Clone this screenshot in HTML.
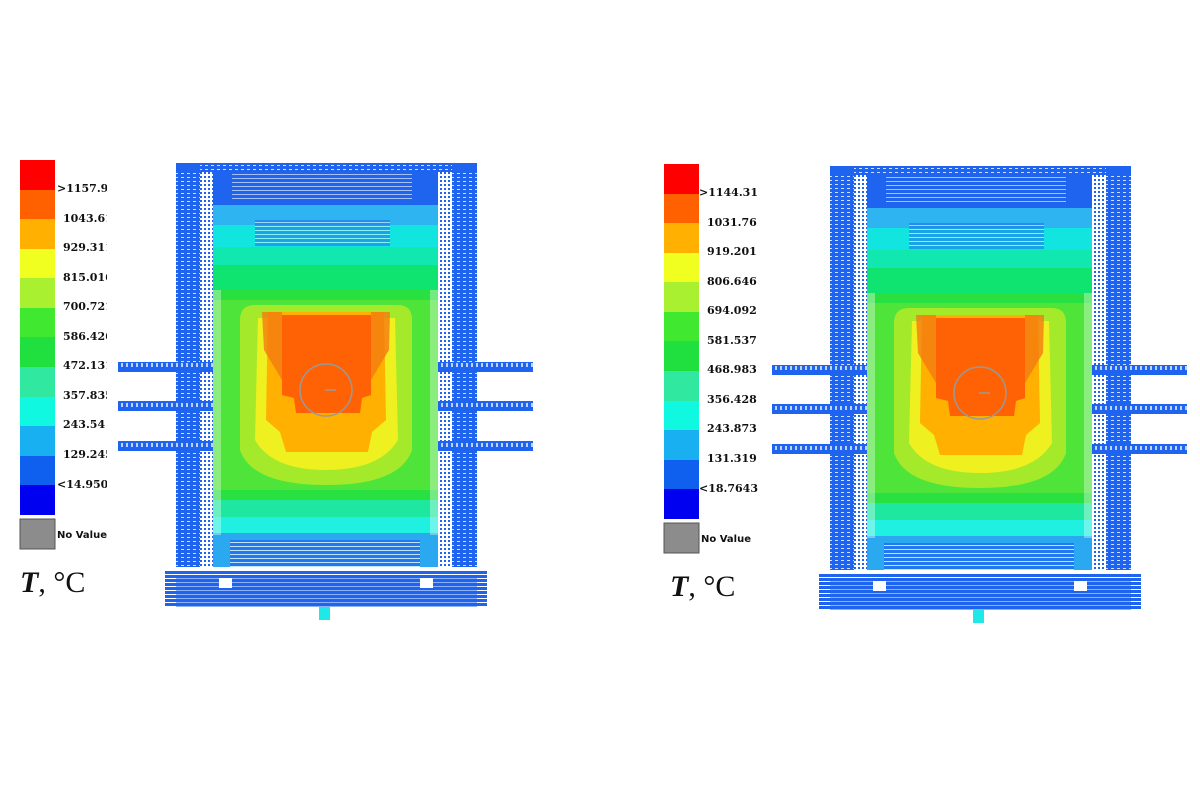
<!DOCTYPE html>
<html><head><meta charset="utf-8"><style>
html,body{margin:0;padding:0;background:#fff;}
svg{display:block;}
.lb{font-family:"DejaVu Serif","Liberation Serif",serif;font-weight:bold;font-size:11px;fill:#111;}
.nv{font-family:"DejaVu Sans","Liberation Sans",sans-serif;font-weight:bold;font-size:10px;fill:#111;}
.tt{font-family:"Liberation Serif",serif;font-size:30px;fill:#111;}
</style></head><body>
<svg width="1200" height="800" viewBox="0 0 1200 800" xmlns="http://www.w3.org/2000/svg">
<defs>
<pattern id="dots" width="4" height="4" patternUnits="userSpaceOnUse"><rect width="4" height="4" fill="#fff"/><rect width="2" height="2" fill="#1e64ee"/></pattern>
<pattern id="hatch" width="6" height="4" patternUnits="userSpaceOnUse"><rect width="6" height="4" fill="#1e64ee"/><rect x="1" y="1" width="3" height="1" fill="#cfe0ff"/></pattern>
<pattern id="bar" width="5" height="10" patternUnits="userSpaceOnUse"><rect width="5" height="10" fill="#1e64ee"/><rect x="1" y="3" width="2" height="4" fill="#bcd2ff"/></pattern>
<pattern id="lines" width="4" height="4" patternUnits="userSpaceOnUse"><rect width="4" height="4" fill="#1e64ee"/><rect y="2" width="4" height="1" fill="#fff"/></pattern>
<clipPath id="lclip"><rect x="0" y="0" width="107" height="800"/></clipPath>
<g id="plot">
  <rect x="176" y="163" width="301" height="404" fill="url(#hatch)"/>
  <rect x="200" y="172" width="13" height="395" fill="url(#dots)"/>
  <rect x="438" y="172" width="14" height="395" fill="url(#dots)"/>
  <rect x="213" y="172" width="225" height="33" fill="#1e64ee"/>
  <rect x="232" y="172" width="180" height="30" fill="url(#lines)" opacity="0.6"/>
  <rect x="213" y="205" width="225" height="20" fill="#2eb4f0"/>
  <rect x="213" y="225" width="225" height="22" fill="#12e4e0"/>
  <rect x="255" y="220" width="135" height="26" fill="url(#lines)" opacity="0.5"/>
  <rect x="213" y="247" width="225" height="18" fill="#10e8b0"/>
  <rect x="213" y="265" width="225" height="25" fill="#10e470"/>
  <rect x="213" y="290" width="225" height="210" fill="#28e040"/>
  <rect x="213" y="300" width="225" height="190" fill="#4ee43a"/>
  <path d="M240 320 Q240 305 255 305 L398 305 Q412 305 412 320 L412 450 Q400 485 326 485 Q252 485 240 450 Z" fill="#a4ea2a"/>
  <path d="M258 318 L395 318 L398 440 Q380 470 326 470 Q272 470 255 440 Z" fill="#eef020"/>
  <path d="M268 312 L384 312 L386 420 L372 432 L368 452 L286 452 L280 432 L266 420 Z" fill="#ffb000"/>
  <path d="M262 312 L282 312 L282 380 L264 350 Z" fill="#f47a10" opacity="0.8"/>
  <path d="M390 312 L371 312 L371 380 L389 350 Z" fill="#f47a10" opacity="0.8"/>
  <path d="M282 315 L371 315 L371 395 L362 398 L360 413 L296 413 L294 398 L282 395 Z" fill="#ff6204"/>
  <rect x="213" y="500" width="225" height="17" fill="#1ee8a0"/>
  <rect x="213" y="517" width="225" height="16" fill="#20f0e0"/>
  <rect x="213" y="533" width="225" height="34" fill="#2aa8f0"/>
  <rect x="230" y="540" width="190" height="27" fill="url(#lines)" opacity="0.7"/>
  <rect x="213" y="290" width="8" height="245" fill="#fff" opacity="0.35"/>
  <rect x="430" y="290" width="8" height="245" fill="#fff" opacity="0.35"/>
  <circle cx="326" cy="390" r="26" fill="none" stroke="#999" stroke-width="1.5"/>
  <line x1="325" y1="390" x2="336" y2="390" stroke="#999" stroke-width="1.5"/>
  <rect x="118" y="362" width="95" height="10" fill="url(#bar)"/>
  <rect x="118" y="401" width="95" height="10" fill="url(#bar)"/>
  <rect x="118" y="441" width="95" height="10" fill="url(#bar)"/>
  <rect x="438" y="362" width="95" height="10" fill="url(#bar)"/>
  <rect x="438" y="401" width="95" height="10" fill="url(#bar)"/>
  <rect x="438" y="441" width="95" height="10" fill="url(#bar)"/>
  <rect x="176" y="163" width="24" height="8" fill="#1e64ee"/>
  <rect x="452" y="163" width="25" height="8" fill="#1e64ee"/>
  <rect x="165" y="570" width="322" height="37" fill="url(#lines)"/>
  <rect x="176" y="576" width="301" height="31" fill="#1e64ee" opacity="0.5"/>
  <rect x="219" y="578" width="13" height="10" fill="#fff"/>
  <rect x="420" y="578" width="13" height="10" fill="#fff"/>
  <rect x="319" y="607" width="11" height="13" fill="#20e8e8"/>
</g>
</defs>

<!-- left legend -->
<g>
<rect x="20" y="160" width="35" height="30" fill="#ff0000"/>
<rect x="20" y="190" width="35" height="29" fill="#ff6000"/>
<rect x="20" y="219" width="35" height="30" fill="#ffb000"/>
<rect x="20" y="249" width="35" height="29" fill="#f0ff20"/>
<rect x="20" y="278" width="35" height="30" fill="#a8f030"/>
<rect x="20" y="308" width="35" height="29" fill="#40e830"/>
<rect x="20" y="337" width="35" height="30" fill="#20e040"/>
<rect x="20" y="367" width="35" height="30" fill="#30e8a0"/>
<rect x="20" y="397" width="35" height="29" fill="#10f8e0"/>
<rect x="20" y="426" width="35" height="30" fill="#18b0f0"/>
<rect x="20" y="456" width="35" height="29" fill="#1060f0"/>
<rect x="20" y="485" width="35" height="30" fill="#0000f0"/>
<rect x="20" y="519" width="35" height="30" fill="#8c8c8c" stroke="#555"/>
<g class="lb" clip-path="url(#lclip)">
<text x="57" y="192">&gt;1157.9</text>
<text x="63" y="222">1043.61</text>
<text x="63" y="251">929.311</text>
<text x="63" y="281">815.016</text>
<text x="63" y="310">700.721</text>
<text x="63" y="340">586.426</text>
<text x="63" y="369">472.131</text>
<text x="63" y="399">357.835</text>
<text x="63" y="428">243.54</text>
<text x="63" y="458">129.245</text>
<text x="57" y="488">&lt;14.9502</text>
</g>
<text class="nv" x="57" y="538">No Value</text>
<text class="tt" x="20" y="592"><tspan font-weight="bold" font-style="italic">T</tspan>, °C</text>
</g>

<!-- right legend -->
<g transform="translate(644,4)">
<rect x="20" y="160" width="35" height="30" fill="#ff0000"/>
<rect x="20" y="190" width="35" height="29" fill="#ff6000"/>
<rect x="20" y="219" width="35" height="30" fill="#ffb000"/>
<rect x="20" y="249" width="35" height="29" fill="#f0ff20"/>
<rect x="20" y="278" width="35" height="30" fill="#a8f030"/>
<rect x="20" y="308" width="35" height="29" fill="#40e830"/>
<rect x="20" y="337" width="35" height="30" fill="#20e040"/>
<rect x="20" y="367" width="35" height="30" fill="#30e8a0"/>
<rect x="20" y="397" width="35" height="29" fill="#10f8e0"/>
<rect x="20" y="426" width="35" height="30" fill="#18b0f0"/>
<rect x="20" y="456" width="35" height="29" fill="#1060f0"/>
<rect x="20" y="485" width="35" height="30" fill="#0000f0"/>
<rect x="20" y="519" width="35" height="30" fill="#8c8c8c" stroke="#555"/>
<g class="lb">
<text x="55" y="192">&gt;1144.31</text>
<text x="63" y="222">1031.76</text>
<text x="63" y="251">919.201</text>
<text x="63" y="281">806.646</text>
<text x="63" y="310">694.092</text>
<text x="63" y="340">581.537</text>
<text x="63" y="369">468.983</text>
<text x="63" y="399">356.428</text>
<text x="63" y="428">243.873</text>
<text x="63" y="458">131.319</text>
<text x="55" y="488">&lt;18.7643</text>
</g>
<text class="nv" x="57" y="538">No Value</text>
<text class="tt" x="26" y="592"><tspan font-weight="bold" font-style="italic">T</tspan>, °C</text>
</g>

<use href="#plot"/>
<use href="#plot" transform="translate(654,3)"/>
</svg>
</body></html>
